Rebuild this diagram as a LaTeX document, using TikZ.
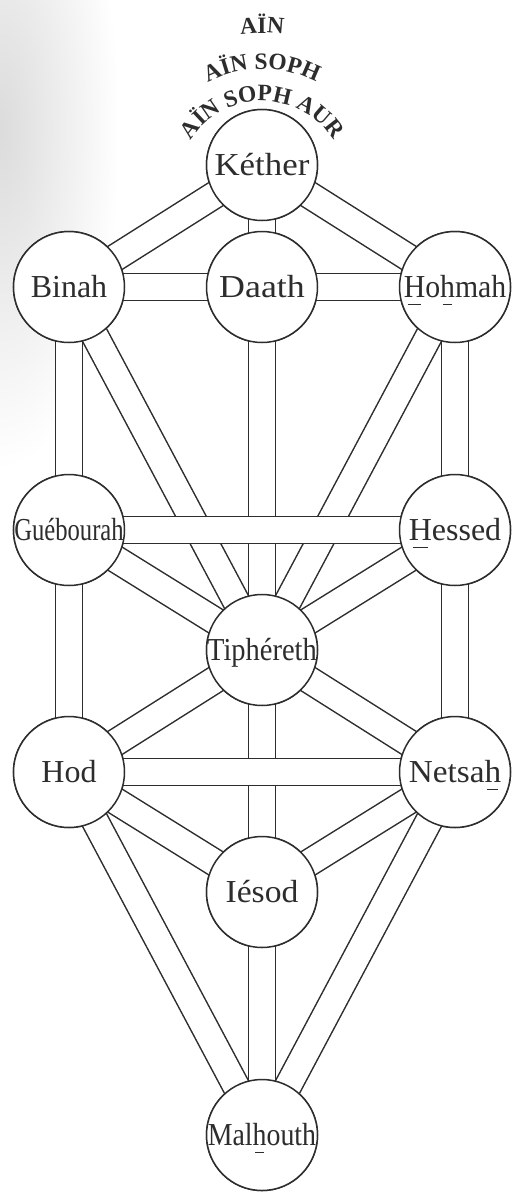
\documentclass[tikz,border=0pt]{standalone}
\usepackage{fontspec}
\setmainfont{Liberation Serif}
\usetikzlibrary{decorations.text}
\definecolor{ink}{RGB}{45,45,45}
\newsavebox{\ulbx}
\newcommand{\uln}[1]{\sbox{\ulbx}{#1}\rlap{\makebox[\wd\ulbx]{\rule[-7.5pt]{0.65\wd\ulbx}{1.3pt}}}\usebox{\ulbx}}
\newcommand{\sx}[2]{\scalebox{#1}[1]{#2}}
\begin{document}
\begin{tikzpicture}[x=1pt,y=1pt,
  sefira/.style={circle, draw=ink, line width=1.5pt, fill=white, minimum size=111pt, inner sep=0pt},
  lbl/.style={text=ink, font=\fontsize{32}{36}\selectfont, inner sep=0pt, text height=22pt, text depth=1pt},
  chan/.style={draw=ink, line width=1.5pt, double=white, double distance=25.5pt},
  crown/.style={decorate, decoration={text along path, text align=center, text color=ink,
     text={|\fontsize{23.5}{27}\selectfont\bfseries|#1}}}
]
\useasboundingbox (0,0) rectangle (514,-1192);
% page
\fill[white] (0,0) rectangle (514,-1192);
\begin{scope}
\clip (0,0) rectangle (514,-1192);
\shade[inner color=black!14, outer color=white] (0,-130) ellipse [x radius=120, y radius=340];
\end{scope}

% sefirot
\node[sefira] (kether) at (262,-165) {};
\node[sefira] (binah) at (69,-287) {};
\node[sefira] (daath) at (262,-287) {};
\node[sefira] (hohmah) at (455,-287) {};
\node[sefira] (guebourah) at (69,-530) {};
\node[sefira] (hessed) at (455,-530) {};
\node[sefira] (tiphereth) at (262,-650) {};
\node[sefira] (hod) at (69,-772) {};
\node[sefira] (netsah) at (455,-772) {};
\node[sefira] (iesod) at (262,-892) {};
\node[sefira] (malhouth) at (262,-1135) {};

% channels
\draw[chan] (kether.center) -- (binah.center);
\draw[chan] (kether.center) -- (hohmah.center);
\draw[chan] (kether.center) -- (daath.center);
\draw[chan] (binah.center) -- (guebourah.center);
\draw[chan] (hohmah.center) -- (hessed.center);
\draw[chan] (binah.center) -- (tiphereth.center);
\draw[chan] (hohmah.center) -- (tiphereth.center);
\draw[chan] (daath.center) -- (tiphereth.center);
\draw[chan] (guebourah.center) -- (tiphereth.center);
\draw[chan] (hessed.center) -- (tiphereth.center);
\draw[chan] (guebourah.center) -- (hod.center);
\draw[chan] (hessed.center) -- (netsah.center);
\draw[chan] (tiphereth.center) -- (hod.center);
\draw[chan] (tiphereth.center) -- (netsah.center);
\draw[chan] (tiphereth.center) -- (iesod.center);
\draw[chan] (hod.center) -- (iesod.center);
\draw[chan] (netsah.center) -- (iesod.center);
\draw[chan] (hod.center) -- (malhouth.center);
\draw[chan] (netsah.center) -- (malhouth.center);
\draw[chan] (iesod.center) -- (malhouth.center);
% horizontal channels on top
\draw[chan] (binah.center) -- (daath.center);
\draw[chan] (daath.center) -- (hohmah.center);
\draw[chan] (guebourah.center) -- (hessed.center);
\draw[chan] (hod.center) -- (netsah.center);

% circles redrawn on top of channels
\foreach \n in {kether,binah,daath,hohmah,guebourah,hessed,tiphereth,hod,netsah,iesod,malhouth}{
  \node[sefira] at (\n.center) {};
}

% labels
\node[lbl] (kether-t) at (kether.center) {\sx{1.09}{Kéther}};
\node[lbl] (binah-t) at (binah.center) {Binah};
\node[lbl] (daath-t) at (daath.center) {\sx{1.12}{Daath}};
\node[lbl] (hohmah-t) at (hohmah.center) {\sx{0.93}{\uln{H}o\uln{h}mah}};
\node[lbl] (guebourah-t) at (guebourah.center) {\sx{0.77}{Guébourah}};
\node[lbl] (hessed-t) at (hessed.center) {\uln{H}essed};
\node[lbl] (tiphereth-t) at (tiphereth.center) {\sx{0.89}{Tiphéreth}};
\node[lbl] (hod-t) at (hod.center) {Hod};
\node[lbl] (netsah-t) at (netsah.center) {\sx{1.04}{Netsa\uln{h}}};
\node[lbl] (iesod-t) at (iesod.center) {\sx{1.05}{Iésod}};
\node[lbl] (malhouth-t) at (malhouth.center) {\sx{0.87}{Mal\uln{h}outh}};

% crown texts
\coordinate (crownc) at (262,-185);
\path[crown={AÏN SOPH AUR}] (crownc) ++(-84,0) arc[start angle=180, end angle=0, radius=84];
\path[crown={AÏN SOPH}] (crownc) ++(-116,0) arc[start angle=180, end angle=0, radius=116];
\path[crown={AÏN}] (crownc) ++(-152,0) arc[start angle=180, end angle=0, radius=152];
\end{tikzpicture}
\end{document}
